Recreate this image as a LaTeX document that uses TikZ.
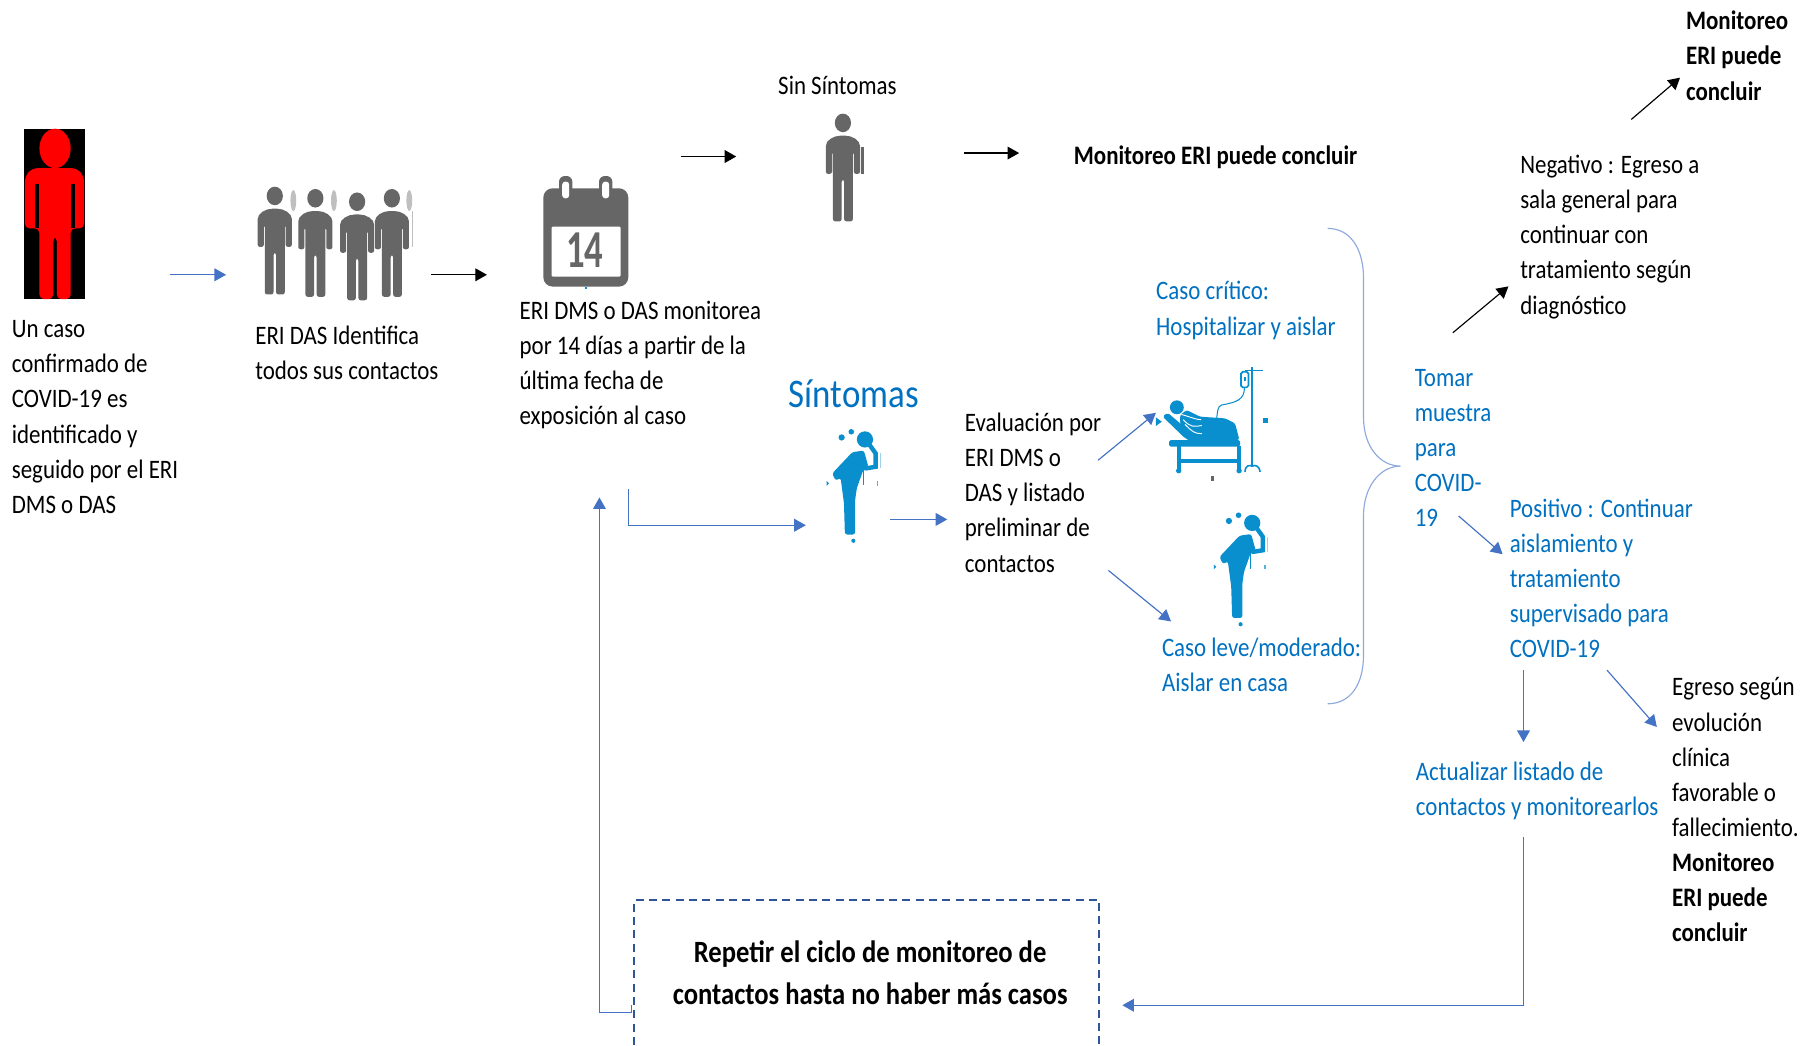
\documentclass[tikz,border=0pt]{standalone}
\usepackage{graphicx}
\usepackage{fontspec}
\setmainfont{Carlito}[FakeStretch=0.86]
\usetikzlibrary{arrows.meta}
\definecolor{arrowblue}{HTML}{4472C4}
\definecolor{textblue}{HTML}{0070C0}
\definecolor{figblue}{HTML}{0A8FCE}
\definecolor{figgrey}{HTML}{666666}
\definecolor{dashblue}{HTML}{2F5597}
\definecolor{bracelight}{HTML}{8FAADC}
\newcommand{\firstline}{\rule{0pt}{18pt}}
\tikzset{
  txt/.style={anchor=north west,inner sep=0pt,align=left,font=\fontsize{23}{30.3}\selectfont,text=black},
  bluetxt/.style={txt,text=textblue},
  boldtxt/.style={txt,font=\fontsize{23}{30.3}\selectfont\bfseries},
  bigbold/.style={anchor=center,inner sep=0pt,align=center,font=\fontsize{26.7}{35.5}\selectfont\bfseries},
  conn/.style={line width=1pt,-{Triangle[length=10pt,width=11pt]}},
  bluearrow/.style={conn,draw=arrowblue},
  blackarrow/.style={conn,draw=black},
  pics/person/.style={code={
    \fill[figgrey] (0,8) ellipse [x radius=7,y radius=8];
    \fill[figgrey,rounded corners=2pt] (-14.75,52) -- (-14.75,30) .. controls (-14.75,23) and (-8,19) .. (0,19)
      .. controls (8,19) and (14.75,23) .. (14.75,30) -- (14.75,52) -- (9.4,52) -- (9.4,33) -- (8.6,33) -- (8.6,93)
      -- (1.1,93) -- (1.1,57) -- (-1.1,57) -- (-1.1,93) -- (-8.6,93) -- (-8.6,33) -- (-9.4,33) -- (-9.4,52) -- cycle;
  }},
  pics/cough/.style={code={
    \fill[figblue] (0,0) circle (7);
    \fill[figblue] (-20.1,-1.7) circle (2.7);
    \fill[figblue] (-11.8,-6.6) circle (2.4);
    \fill[figblue,rounded corners=2pt] (-28.2,29.3) -- (-10.9,11) -- (-0.9,9.6) -- (3,23.6) -- (-1.3,26) -- (-7,42)
      -- (-8.5,52.3) -- (-8.5,82) -- (-17.3,82) -- (-18.1,55) -- (-21,33.2) -- (-25.3,35.5) -- cycle;
    \draw[figblue,line width=3.8pt,line cap=round] (3.5,4) -- (9.2,12) -- (9.2,23.6) -- (0.6,25);
    \draw[figblue,line width=1.2pt] (-1.4,25) -- (-1.4,39.4);
    \fill[figblue] (-33,36) -- (-31,38) -- (-33,40) -- cycle;
    \fill[figblue!70] (10,36) rectangle (11.5,40);
    \fill[figblue] (-10,87.4) circle (1.8);
    \fill[figblue!40] (12.6,12) rectangle (14,25);
  }},
}
\begin{document}
\begin{tikzpicture}[x=1pt,y=-1pt]
\useasboundingbox (0,0) rectangle (1568,901.3);

% --- red figure
\fill[black] (21,111) rectangle (73,258);
\fill[red] (47.5,128) ellipse [x radius=13.5,y radius=17];
\fill[red,rounded corners=4pt] (21.5,197) -- (21.5,152) -- (28,145) -- (66,145) -- (72.5,152) -- (72.5,197) -- (61,197)
  -- (61,258) -- (49,258) -- (49,204) -- (46,204) -- (46,258) -- (34,258) -- (34,197) -- cycle;
\fill[black] (30.5,159) rectangle (34,197);
\fill[black] (61,159) rectangle (64.5,197);

% --- four contacts
\pic at (237,161) {person};
\pic at (272,163) {person};
\pic at (308,166) {person};
\pic at (338,163) {person};
\foreach \sx in {253,288,353}{
  \fill[black!25] (\sx,173) ellipse [x radius=2.5,y radius=9];
}
\fill[black!25] (355,182) rectangle (356.5,213);

% --- calendar
\fill[figgrey,rounded corners=8pt] (468.6,162.4) rectangle (541.9,247.2);
\foreach \cx in {487.9,522.4}{
  \fill[figgrey,rounded corners=5pt] (\cx-5.75,151.8) rectangle (\cx+5.75,174);
  \fill[white,rounded corners=2.5pt] (\cx-3,156.7) rectangle (\cx+3,171);
}
\fill[white,rounded corners=1pt] (475.8,195.5) rectangle (535.3,238.6);
\node[inner sep=0pt,text=figgrey,font=\fontsize{46}{46}\selectfont\bfseries] (catorce) at (504.5,216) {\scalebox{0.8}[1]{14}};
\fill[figblue] (504.5,247.5) rectangle (506.5,249.5);

% --- no symptoms figure
\pic at (727,98) {person};
\fill[figgrey] (743,127) rectangle (745.5,150);

% --- coughing figures
\pic at (746,379) {cough};
\pic at (1080,451) {cough};

% --- patient in bed
\fill[figblue] (1015,351.3) circle (6);
\fill[figblue] (997,360) -- (1002,363.7) -- (997,367.4) -- cycle;
\fill[figblue,rounded corners=1.5pt] (1002.8,359.4) -- (1006.9,355.9) -- (1026.4,372.3) -- (1026.4,379.5) -- (1022.1,378) -- cycle;
\fill[figblue,rounded corners=2pt] (1017.8,358) -- (1023.5,353.6) -- (1035,359.4) -- (1056.6,360.8) -- (1065.2,365.1)
  -- (1069,379.5) -- (1023.5,379.5) -- (1017.8,365.1) -- cycle;
\draw[white,line width=.8pt] (1019,357.5) .. controls (1028,360) and (1032,362) .. (1036,362);
\draw[white,line width=.8pt] (1020.5,362) .. controls (1027,369) and (1030,368) .. (1036.5,367);
\draw[white,line width=.8pt] (1022,366) .. controls (1029,373) and (1031,374) .. (1036.5,374);
\fill[figblue,rounded corners=1.5pt] (1008.3,379.5) rectangle (1069.5,385.3);
\fill[figblue] (1014.9,385) rectangle (1018.4,406);
\fill[figblue] (1067,385) rectangle (1070.4,406);
\fill[figblue] (1016,395.9) rectangle (1068,399.3);
\fill[figblue] (1016.6,406) circle (2.3);
\fill[figblue] (1068.7,406) circle (2.3);
\draw[figblue,line width=1.8pt] (1080.2,316.3) -- (1080.2,402.5);
\draw[figblue,line width=1pt] (1073.8,319.7) -- (1089.7,319.7);
\draw[figblue,line width=1.4pt] (1073.8,407) .. controls (1074,401) and (1078,401) .. (1080.2,402) .. controls (1082,401) and (1086,401) .. (1086.8,407);
\draw[figblue,line width=1.5pt,fill=white,rounded corners=1.5pt] (1070.4,320.6) rectangle (1076.7,334.1);
\fill[figblue] (1072.6,325) rectangle (1074.5,329);
\draw[figblue,line width=.9pt] (1073.3,334) .. controls (1073.5,345) and (1066,347) .. (1053.7,349.3) .. controls (1050,350) and (1050,356) .. (1049.4,360.8);
\fill[figblue] (1089.4,360.5) rectangle (1094,365.1);
\fill[figgrey] (1044.5,410.5) rectangle (1047,414.5);

% --- texts
\node[txt] (caso) at (10,273) {\firstline Un caso\\confirmado de\\COVID-19 es\\identificado y\\seguido por el ERI\\DMS o DAS};
\node[txt] (identifica) at (220,279) {\firstline ERI DAS Identifica\\todos sus contactos};
\node[txt] (monitorea) at (448,257) {\firstline ERI DMS o DAS monitorea\\por 14 días a partir de la\\última fecha de\\exposición al caso};
\node[txt] (sinsint) at (671,63) {\firstline Sin Síntomas};
\node[boldtxt] (concluye) at (926,124) {\firstline Monitoreo ERI puede concluir};
\node[boldtxt] (concluyetop) at (1454,7.5) {\firstline Monitoreo\\ERI puede\\concluir};
\node[txt] (negativo) at (1311,131.5) {\firstline Negativo : Egreso a\\sala general para\\continuar con\\tratamiento según\\diagnóstico};
\node[bluetxt] (critico) at (997,240.5) {\firstline Caso crítico:\\Hospitalizar y aislar};
\node[anchor=west,inner sep=0pt,text=textblue,font=\fontsize{35}{40}\selectfont] (sintomas) at (680,339.5) {Síntomas};
\node[txt] (evaluacion) at (832,354) {\firstline Evaluación por\\ERI DMS o\\DAS y listado\\preliminar de\\contactos};
\node[bluetxt] (tomar) at (1220,315) {\firstline Tomar\\muestra\\para\\COVID-\\19};
\node[bluetxt] (positivo) at (1302,428) {\firstline Positivo : Continuar\\aislamiento y\\tratamiento\\supervisado para\\COVID-19};
\node[bluetxt] (leve) at (1002,548) {\firstline Caso leve/moderado:\\Aislar en casa};
\node[bluetxt] (actualizar) at (1221,655) {\firstline Actualizar listado de\\contactos y monitorearlos};
\node[txt] (egreso) at (1442,582) {\firstline Egreso según\\evolución\\clínica\\favorable o\\fallecimiento.\\\textbf{Monitoreo}\\\textbf{ERI puede}\\\textbf{concluir}};
\node[bigbold] (repetir) at (750.5,839) {Repetir el ciclo de monitoreo de\\contactos hasta no haber más casos};

% --- dashed open box
\coordinate (dbl) at (547,901.3);
\coordinate (dtl) at (547,776);
\coordinate (dtr) at (948,776);
\coordinate (dbr) at (948,901.3);
\draw[dashblue,line width=1.5pt,dash pattern=on 7pt off 4.5pt] (dbl) -- (dtl) -- (dtr) -- (dbr);

% --- brace
\coordinate (bt) at (1145,197);
\coordinate (bm) at (1208,402);
\coordinate (bb) at (1145,607);
\draw[bracelight,line width=1pt] (bt) .. controls (1165,197) and (1176,215) .. (1176,240) -- (1176,360)
  .. controls (1176,385) and (1190,402) .. (bm) .. controls (1190,402) and (1176,420) .. (1176,445) -- (1176,565)
  .. controls (1176,590) and (1165,607) .. (bb);

% --- connectors
\coordinate (a1) at (147,237); \coordinate (a2) at (195,237);
\draw[bluearrow] (a1) -- (a2);
\coordinate (b1) at (372,237); \coordinate (b2) at (420,237);
\draw[blackarrow] (b1) -- (b2);
\coordinate (c1) at (587,135); \coordinate (c2) at (635,135);
\draw[blackarrow] (c1) -- (c2);
\coordinate (d1) at (831,132); \coordinate (d2) at (879,132);
\draw[blackarrow] (d1) -- (d2);
\coordinate (e1) at (542,422); \coordinate (e2) at (542,453); \coordinate (e3) at (695,453);
\draw[bluearrow] (e1) -- (e2) -- (e3);
\coordinate (f1) at (768,448); \coordinate (f2) at (817,448);
\draw[bluearrow] (f1) -- (f2);
\coordinate (g1) at (947,397); \coordinate (g2) at (997,356);
\draw[bluearrow] (g1) -- (g2);
\coordinate (h1) at (956,492); \coordinate (h2) at (1010,536);
\draw[bluearrow] (h1) -- (h2);
\coordinate (i1) at (1253,287); \coordinate (i2) at (1301,247);
\draw[blackarrow] (i1) -- (i2);
\coordinate (j1) at (1407,103); \coordinate (j2) at (1449,67);
\draw[blackarrow] (j1) -- (j2);
\coordinate (k1) at (1258,445); \coordinate (k2) at (1296,478);
\draw[bluearrow] (k1) -- (k2);
\coordinate (l1) at (1314,578); \coordinate (l2) at (1314,640);
\draw[bluearrow] (l1) -- (l2);
\coordinate (m1) at (1386,578); \coordinate (m2) at (1429,627);
\draw[bluearrow] (m1) -- (m2);
\coordinate (n1) at (1314,722); \coordinate (n2) at (1314,867); \coordinate (n3) at (968,867);
\draw[bluearrow] (n1) -- (n2) -- (n3);
\coordinate (o1) at (545,867); \coordinate (o2) at (545,873); \coordinate (o3) at (517,873); \coordinate (o4) at (517,429);
\draw[bluearrow] (o1) -- (o2) -- (o3) -- (o4);
\end{tikzpicture}
\end{document}
